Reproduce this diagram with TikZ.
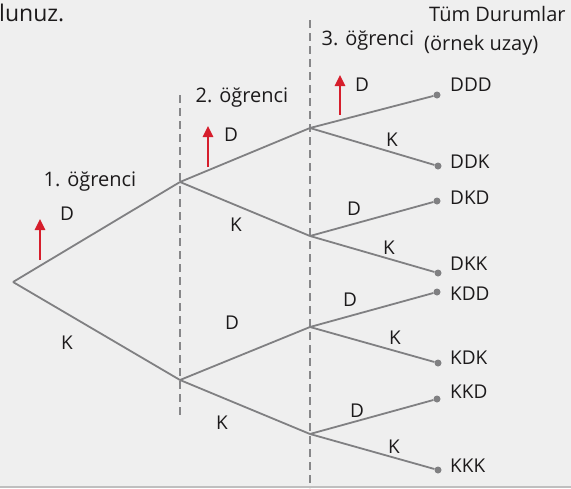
\documentclass[tikz,border=0pt]{standalone}
\usepackage{fontspec}
\setmainfont{Open Sans}
\usetikzlibrary{arrows.meta,positioning}
\definecolor{bggray}{RGB}{239,239,239}
\definecolor{edgegray}{RGB}{128,128,130}
\definecolor{dashgray}{RGB}{135,135,137}
\definecolor{arrowred}{RGB}{214,30,44}
\definecolor{textdark}{RGB}{28,26,27}

\begin{document}
\begin{tikzpicture}[x=1pt,y=-1pt,
 edge/.style={draw=edgegray,line width=1.8pt},
 levelline/.style={draw=dashgray,line width=2.7pt,dash pattern=on 8pt off 5pt},
 up/.style={-{Triangle[length=11pt,width=10pt]},draw=arrowred,line width=2.5pt},
 leaf/.style={circle,fill=edgegray,inner sep=0pt,minimum size=7pt},
 pt/.style={inner sep=0pt,minimum size=0pt},
 lbl/.style={text=textdark,font=\fontsize{19}{22}\selectfont,inner sep=0pt},
 head/.style={text=textdark,font=\fontsize{20}{24}\selectfont,inner sep=0pt,anchor=base}
]
\useasboundingbox[fill=bggray] (0,0) rectangle (571,488);
\draw[draw=black!25,line width=1.2pt] (0,487) -- (571,487);

% text cut off from the line above
\node[text=textdark,font=\fontsize{23}{26}\selectfont,inner sep=0pt,anchor=base west] (cut) at (-1,21) {lunuz.};

% student levels
\coordinate (l1top) at (180,95);
\coordinate (l1bot) at (180,418);
\coordinate (l2top) at (310,20);
\coordinate (l2bot) at (310,488);
\draw[levelline] (l1top) -- (l1bot);
\draw[levelline] (l2top) -- (l2bot);

\node[head] (s1) at (90,186) {1. öğrenci};
\node[head] (s2) at (242,102) {2. öğrenci};
\node[head] (s3) at (368,45) {3. öğrenci};
\node[head,anchor=base west] (all) at (429,21) {Tüm Durumlar};
\node[head,anchor=base west] (space) at (424,50) {(örnek uzay)};

% tree
\node[pt] (root) at (13,282) {};
\node[pt] (d) at (180,182) {};
\node[pt] (k) at (180,380) {};
\node[pt] (dd) at (310,128) {};
\node[pt] (dk) at (310,236) {};
\node[pt] (kd) at (310,327) {};
\node[pt] (kk) at (310,434) {};
\node[leaf] (ddd) at (437,95) {};
\node[leaf] (ddk) at (438,166) {};
\node[leaf] (dkd) at (437,201) {};
\node[leaf] (dkk) at (438,273) {};
\node[leaf] (kdd) at (437,292) {};
\node[leaf] (kdk) at (438,363) {};
\node[leaf] (kkd) at (437,399) {};
\node[leaf] (kkk) at (438,470) {};

\draw[edge] (root.center) -- (d.center);
\draw[edge] (root.center) -- (k.center);
\draw[edge] (d.center) -- (dd.center);
\draw[edge] (d.center) -- (dk.center);
\draw[edge] (k.center) -- (kd.center);
\draw[edge] (k.center) -- (kk.center);
\draw[edge] (dd.center) -- (ddd);
\draw[edge] (dd.center) -- (ddk);
\draw[edge] (dk.center) -- (dkd);
\draw[edge] (dk.center) -- (dkk);
\draw[edge] (kd.center) -- (kdd);
\draw[edge] (kd.center) -- (kdk);
\draw[edge] (kk.center) -- (kkd);
\draw[edge] (kk.center) -- (kkk);

% edge labels
\node[lbl] (ld) at (67,214) {D};
\node[lbl] (lk) at (67,343) {K};
\node[lbl] (ldd) at (231,135) {D};
\node[lbl] (ldk) at (236,225) {K};
\node[lbl] (lkd) at (232,323) {D};
\node[lbl] (lkk) at (222,423) {K};
\node[lbl] (lddd) at (362,85) {D};
\node[lbl] (lddk) at (392,140) {K};
\node[lbl] (ldkd) at (354,209) {D};
\node[lbl] (ldkk) at (389,248) {K};
\node[lbl] (lkdd) at (350,300) {D};
\node[lbl] (lkdk) at (395,338) {K};
\node[lbl] (lkkd) at (357,411) {D};
\node[lbl] (lkkk) at (394,447) {K};

% outcomes
\node[lbl,anchor=west] (tddd) at (450,85) {DDD};
\node[lbl,anchor=west] (tddk) at (450,162) {DDK};
\node[lbl,anchor=west] (tdkd) at (450,198) {DKD};
\node[lbl,anchor=west] (tdkk) at (450,264) {DKK};
\node[lbl,anchor=west] (tkdd) at (450,294) {KDD};
\node[lbl,anchor=west] (tkdk) at (450,358) {KDK};
\node[lbl,anchor=west] (tkkd) at (450,392) {KKD};
\node[lbl,anchor=west] (tkkk) at (450,466) {KKK};

% red arrows
\coordinate (a1) at (40,260);
\coordinate (a1t) at (40,219);
\coordinate (a2) at (208,167);
\coordinate (a2t) at (208,126);
\coordinate (a3) at (340,115);
\coordinate (a3t) at (340,75);
\draw[up] (a1) -- (a1t);
\draw[up] (a2) -- (a2t);
\draw[up] (a3) -- (a3t);
\end{tikzpicture}
\end{document}
